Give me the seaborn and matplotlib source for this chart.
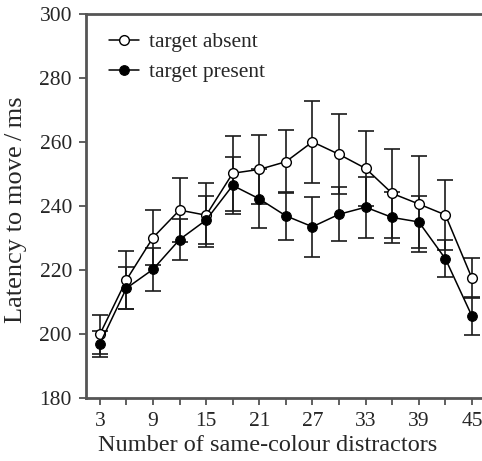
import matplotlib
matplotlib.use("Agg")
import matplotlib.pyplot as plt
import numpy as np
import pandas as pd
import seaborn as sns

# numero de distractores del mismo color
distractores = [3, 6, 9, 12, 15, 18, 21, 24, 27, 30, 33, 36, 39, 42, 45]

# latencias (ms)
ausente = [200.0, 217.0, 230.2, 238.8, 237.2, 250.3, 251.5, 253.9, 260.1, 256.2, 251.8, 244.0, 240.7, 237.3, 217.5]
ausente_err = [6.0, 9.0, 8.6, 10.0, 10.0, 11.7, 10.7, 9.8, 12.7, 12.5, 11.8, 13.9, 15.0, 11.0, 6.2]
presente = [197.0, 214.4, 220.3, 229.6, 235.7, 246.5, 242.3, 237.0, 233.6, 237.5, 239.7, 236.5, 235.1, 223.6, 205.7]
presente_err = [4.2, 6.5, 6.8, 6.5, 7.4, 9.0, 9.2, 7.5, 9.3, 8.5, 9.5, 8.0, 8.0, 5.8, 6.0]

etiquetas = ['target absent', 'target present']

sns.set_style("ticks")
plt.rcParams['font.family'] = ['Liberation Serif', 'DejaVu Serif']

fig = plt.figure(figsize=(4.82, 4.61), dpi=100)
ax = fig.add_axes([0.178, 0.1356, 0.822, 0.834])

# barras de error primero
ax.errorbar(distractores, ausente, yerr=ausente_err, fmt='none', ecolor='#1a1a1a',
            elinewidth=1.2, capsize=6, capthick=1.2, zorder=1)
ax.errorbar(distractores, presente, yerr=presente_err, fmt='none', ecolor='#1a1a1a',
            elinewidth=1.2, capsize=6, capthick=1.2, zorder=1)

df = pd.DataFrame({
    'x': distractores * 2,
    'y': ausente + presente,
    'cond': [etiquetas[0]] * len(distractores) + [etiquetas[1]] * len(distractores)
})

sns.lineplot(data=df[df['cond'] == etiquetas[0]], x='x', y='y', ax=ax, color='black',
             lw=1.1, marker='o', markersize=7, markerfacecolor='white',
             markeredgecolor='black', markeredgewidth=1.0, label=etiquetas[0], zorder=3)
sns.lineplot(data=df[df['cond'] == etiquetas[1]], x='x', y='y', ax=ax, color='black',
             lw=1.1, marker='o', markersize=7, markerfacecolor='black',
             markeredgecolor='black', label=etiquetas[1], zorder=3)

ax.set_xlim(1.42, 46.13)
ax.set_ylim(180, 300)
ax.set_xticks(distractores)
ax.set_xticklabels([str(d) if i % 2 == 0 else '' for i, d in enumerate(distractores)])
ax.set_yticks(np.arange(180, 301, 20))

ax.set_xlabel('Number of same-colour distractors', fontsize=17.5)
ax.set_ylabel('Latency to move\u2009/\u2009ms', fontsize=19)
ax.xaxis.set_label_coords(0.46, -0.095)
ax.yaxis.set_label_coords(-0.148, 0.49)
ax.tick_params(axis='both', labelsize=15.5, direction='out', length=5, width=1.2,
               color='#444444', pad=5)

for lado in ['left', 'bottom', 'top']:
    ax.spines[lado].set_color('#555555')
    ax.spines[lado].set_linewidth(2)
ax.spines['right'].set_visible(False)

leg = ax.legend(loc='upper left', frameon=False, fontsize=15.5, handlelength=1.4,
                handletextpad=0.45, borderaxespad=0.45, labelspacing=0.45,
                bbox_to_anchor=(0.012, 1.0))

fig.savefig('out.png', dpi=100)
